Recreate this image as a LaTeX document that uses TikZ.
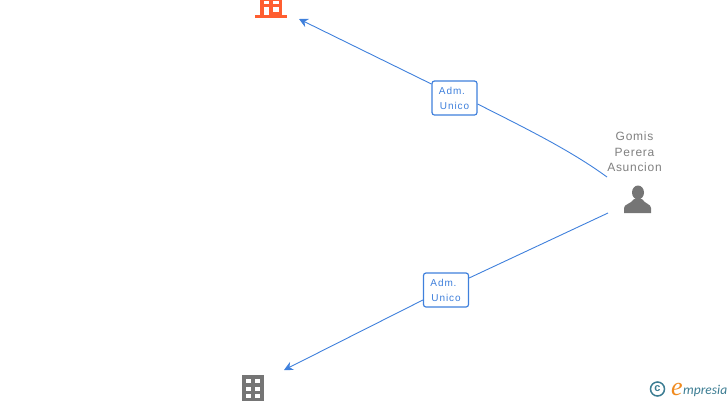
\documentclass[tikz,border=0pt]{standalone}
\usepackage{fontspec}
\setmainfont{Liberation Sans}
\newfontfamily\logofont{Liberation Serif}
\newfontfamily\logosans{Carlito}
\usetikzlibrary{arrows.meta}
\definecolor{linkblue}{HTML}{3F80DC}
\definecolor{redicon}{HTML}{FF5E30}
\definecolor{greyicon}{HTML}{757575}
\definecolor{logoteal}{HTML}{3B7C92}
\definecolor{logoorange}{HTML}{F08A1E}
\tikzset{
  roleBox/.style={draw=linkblue,fill=white,rounded corners=2.5pt,line width=1.2pt,minimum width=45pt,minimum height=34pt,
    inner sep=0pt,align=center,text=linkblue,font=\fontsize{10}{15}\selectfont\addfontfeature{LetterSpace=9}},
  personText/.style={align=center,text=gray,font=\fontsize{12}{15.5}\selectfont\addfontfeature{LetterSpace=6}},
  linkLine/.style={draw=linkblue,line width=0.9pt},
  bigTip/.style={-{Stealth[length=9pt,width=9pt]}}
}
\begin{document}
\begin{tikzpicture}[x=1pt,y=-1pt,>=Stealth]
  \useasboundingbox (0,0) rectangle (728,400);
  \clip (0,0) rectangle (728,400);
  \node[roleBox] (admTop) at (454.5,98) {Adm.\,\,\,\\Unico};
  \node[roleBox] (admBottom) at (446,290) {Adm.\,\,\,\\Unico};
  \node[personText] (gomis) at (634.5,152) {Gomis\\Perera\\Asuncion};
  \coordinate (topStart) at (607,177);
  \coordinate (bottomStart) at (608,213);
  \coordinate (redTip) at (299,19);
  \coordinate (greyTip) at (284,370);
  \draw[linkLine] (topStart) .. controls (570,150) and (525,128) .. (admTop.east |- 0,104);
  \draw[linkLine,bigTip] (admTop.west |- 0,84) -- (redTip);
  \draw[linkLine] (bottomStart) -- (admBottom.east |- 0,278);
  \draw[linkLine,bigTip] (admBottom.west |- 0,300) -- (greyTip);
  % person
  \fill[greyicon] (638,192.5) ellipse (6 and 7);
  \fill[greyicon] (624,213) -- (624,208) .. controls (624,204) and (631,204) .. (634,199)
    -- (642,199) .. controls (645,204) and (651,204) .. (651,208) -- (651,213) -- cycle;
  % red building
  \fill[redicon] (255,15) rectangle (287,18);
  \fill[redicon] (260,-1) rectangle (282,15);
  \fill[white] (264,1) rectangle (269,4);
  \fill[white] (273,1) rectangle (279,4);
  \fill[white] (264,7) rectangle (269,15);
  \fill[white] (273,7) rectangle (279,12);
  % grey building
  \fill[greyicon] (242,375) rectangle (264,401);
  \foreach \winy in {379,387,394}{
    \fill[white] (246,\winy) rectangle (251,\winy+4);
    \fill[white] (255,\winy) rectangle (260,\winy+4);
  }
  % logo
  \node[circle,draw=logoteal,line width=1.5pt,minimum size=14pt,inner sep=0pt,text=logoteal,font=\bfseries\fontsize{11}{11}\selectfont] (copyMark) at (657.5,389) {c};
  \node[anchor=base west,inner sep=0pt,text=logoorange,font=\logofont\itshape\fontsize{26}{26}\selectfont] (logoE) at (671,395) {e};
  \node[anchor=base west,inner sep=0pt,text=logoteal,font=\logosans\itshape\fontsize{13.5}{14}\selectfont] (logoRest) at (683,394) {mpresia};
\end{tikzpicture}
\end{document}
